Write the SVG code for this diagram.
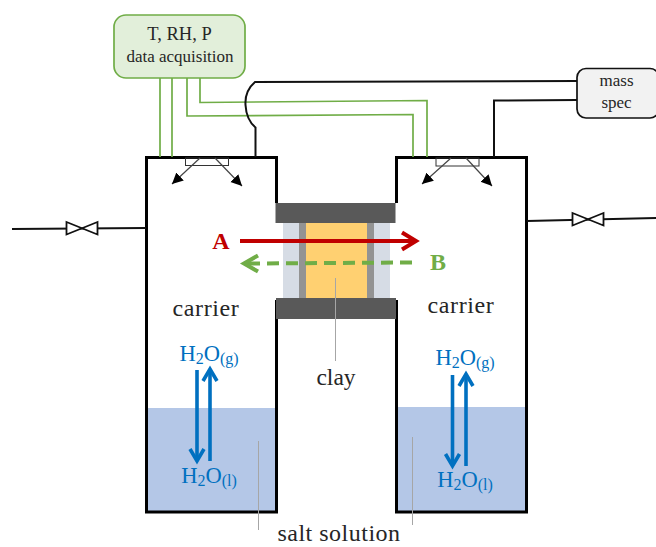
<svg xmlns="http://www.w3.org/2000/svg" width="656" height="547" viewBox="0 0 656 547">
<style>
text{font-family:"Liberation Serif","Times New Roman",serif;fill:#262626;text-anchor:middle}
.w{fill:#0070c0}
.blk{fill:none;stroke:#111;stroke-width:2}
.wall{fill:none;stroke:#000;stroke-width:3}
.grn{fill:none;stroke:#70ad47;stroke-width:1.7}
.thin{fill:none;stroke:#333;stroke-width:1;}
.sa{stroke:#444;stroke-width:1.2;fill:none;marker-end:url(#tri)}
.lead{stroke:#a6a6a6;stroke-width:1;fill:none}
.wa{stroke:#0070c0;stroke-width:3.6;fill:none}
.wh{stroke:#0070c0;stroke-width:3.6;fill:none}
.valve{fill:#fff;stroke:#111;stroke-width:1.8}
</style>
<defs>
<marker id="tri" markerUnits="userSpaceOnUse" markerWidth="14" markerHeight="14" refX="11" refY="5.500" orient="auto"><path d="M0 0L11 5.500L0 11Z" fill="#000"/></marker>
</defs>

<g id="left-chamber">
<rect x="147" y="408" width="129" height="104" fill="#b4c7e7"/>
<path class="wall" d="M276.500 203V157.500H146.500V512H276.500V300"/>
<rect class="thin" x="185.500" y="158" width="43" height="7.500"/>
<path class="sa" d="M200 158L172 184"/>
<path class="sa" d="M215 158L242 186"/>
</g>

<g id="right-chamber">
<rect x="397" y="407" width="129" height="105" fill="#b4c7e7"/>
<path class="wall" d="M396.500 203V157.500H526.500V512H396.500V300"/>
<rect class="thin" x="436" y="158" width="43" height="8"/>
<path class="sa" d="M451 158L422 184"/>
<path class="sa" d="M466 158L492 186"/>
</g>

<g id="clay-cell">
<rect x="283" y="223" width="107" height="75" fill="#d6dce5"/>
<rect x="299" y="223" width="75" height="75" fill="#939393"/>
<rect x="306" y="223" width="61" height="75" fill="#ffd071"/>
<rect x="275.500" y="203" width="120" height="20" fill="#595959"/>
<rect x="276" y="298" width="120" height="21" fill="#595959"/>
</g>

<g id="connectors">
<path class="grn" d="M160 78V157M172 78V157"/>
<path class="grn" d="M187 78V116L413 114.500V157"/>
<path class="grn" d="M200 78V102.500L427 100.500V157"/>
<path class="blk" d="M577 81L255 82C248 88 245 97 245.500 105C246 114 249 122 255.500 127.500V157"/>
<path class="blk" d="M577 100L494 100.500V157"/>
<path class="blk" d="M12 229L146 228"/>
<path class="blk" d="M527 221L656 218"/>
<path class="valve" d="M66.500 222L97.500 234.500V222L66.500 234.500Z"/>
<path class="valve" d="M572.500 213L603.500 225.500V213L572.500 225.500Z"/>
<path d="M240 241H414" stroke="#c00000" stroke-width="4" fill="none"/>
<path d="M402 232.500L416 241L402 249.500" stroke="#c00000" stroke-width="4" fill="none"/>
<path d="M412 262.500L247 263.500" stroke="#70ad47" stroke-width="4" stroke-dasharray="12 7" fill="none"/>
<path d="M258 255.500L244 263.500L258 271.500" stroke="#70ad47" stroke-width="4" fill="none"/>
<path class="lead" d="M335.500 278V361"/>
<path class="lead" d="M258.500 441V530"/>
<path class="lead" d="M412.500 437V525"/>
<path class="wa" d="M197 370V459"/>
<path class="wh" d="M190 449L197 461L204 449"/>
<path class="wa" d="M210 461V372"/>
<path class="wh" d="M203 381L210 369L217 381"/>
<path class="wa" d="M452.500 375V464"/>
<path class="wh" d="M445.500 454L452.500 466L459.500 454"/>
<path class="wa" d="M466 466V377"/>
<path class="wh" d="M459 386L466 374L473 386"/>
</g>

<g id="daq">
<rect x="114" y="15" width="131" height="63" rx="12" fill="#e2efda" stroke="#70ad47" stroke-width="1.7"/>
<text x="179.500" y="40" font-size="18.500">T, RH, P</text>
<text x="180" y="62" font-size="17">data acquisition</text>
</g>

<g id="mass-spec">
<rect x="577" y="68.500" width="82" height="49.500" rx="9" fill="#f2f2f2" stroke="#111" stroke-width="1.7"/>
<text x="616.500" y="86" font-size="17">mass</text>
<text x="616.500" y="108" font-size="17">spec</text>
</g>

<g id="labels">
<text x="221" y="249" font-size="24" font-weight="bold" style="fill:#c00000">A</text>
<text x="438" y="270" font-size="24" font-weight="bold" style="fill:#70ad47">B</text>
<text x="206" y="316" font-size="24" letter-spacing="0.600">carrier</text>
<text x="461" y="313" font-size="24" letter-spacing="0.600">carrier</text>
<text x="336" y="385" font-size="23.500">clay</text>
<text x="339" y="541" font-size="24" letter-spacing="0.500">salt solution</text>
<text class="w" x="209" y="361" font-size="22.500">H<tspan font-size="16" dy="3">2</tspan><tspan dy="-3">O</tspan><tspan font-size="16" dy="3">(g)</tspan></text>
<text class="w" x="209" y="483" font-size="22.500">H<tspan font-size="16" dy="3">2</tspan><tspan dy="-3">O</tspan><tspan font-size="16" dy="3">(l)</tspan></text>
<text class="w" x="465" y="365" font-size="22.500">H<tspan font-size="16" dy="3">2</tspan><tspan dy="-3">O</tspan><tspan font-size="16" dy="3">(g)</tspan></text>
<text class="w" x="465" y="487" font-size="22.500">H<tspan font-size="16" dy="3">2</tspan><tspan dy="-3">O</tspan><tspan font-size="16" dy="3">(l)</tspan></text>
</g>
</svg>
